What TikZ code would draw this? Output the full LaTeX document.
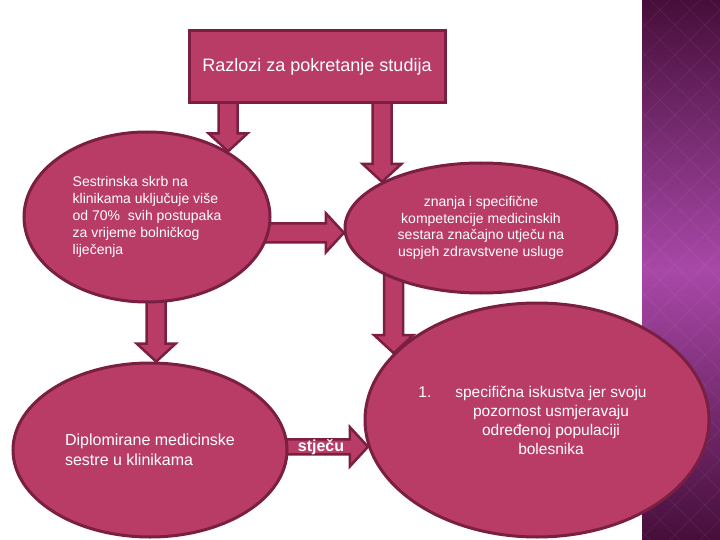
\documentclass[tikz,border=0pt]{standalone}
\usepackage{fontspec}
\setmainfont{Liberation Sans}
\usetikzlibrary{shapes.geometric,calc,backgrounds}

\definecolor{rasp}{RGB}{184,60,102}
\definecolor{raspdark}{RGB}{122,30,66}
\definecolor{stripdark}{RGB}{70,14,58}
\definecolor{stripmid}{RGB}{168,72,168}

\tikzset{
  bubble/.style={ellipse, draw=raspdark, fill=rasp, line width=3pt, text=white, inner sep=0pt},
  titlebox/.style={rectangle, draw=raspdark, fill=rasp, line width=3pt, text=white},
  blockarr/.style={draw=raspdark, fill=rasp, line width=2.5pt, line join=miter},
}

% block arrow: #2 start (hidden under a node), #3 tip
\newcommand{\blockarrow}[3][9.5pt]{%
  \coordinate (hb) at ($(#3)!18pt!(#2)$);
  \draw[blockarr] ($(#2)!#1!90:(#3)$) -- ($(hb)!#1!-90:(#2)$) -- ($(hb)!19.5pt!-90:(#2)$) -- (#3)
    -- ($(hb)!19.5pt!90:(#2)$) -- ($(hb)!#1!90:(#2)$) -- ($(#2)!#1!-90:(#3)$) -- cycle;
}

\begin{document}
\begin{tikzpicture}[x=1pt,y=-1pt]
\useasboundingbox (0,0) rectangle (720,540);

\node[titlebox, minimum width=256pt, minimum height=72pt, font=\fontsize{18}{22}\selectfont] (top) at (317,67) {Razlozi za pokretanje studija};

\node[bubble, minimum width=246pt, minimum height=170pt, align=left, font=\fontsize{14}{17}\selectfont] (e1) at (147,217) {Sestrinska skrb na\\klinikama uključuje više\\od 70\%\ \ svih postupaka\\za vrijeme bolničkog\\liječenja};
\node[bubble, minimum width=272pt, minimum height=130pt, align=center, font=\fontsize{14}{16.7}\selectfont] (e2) at (481,228) {znanja i specifične\\kompetencije medicinskih\\sestara značajno utječu na\\uspjeh zdravstvene usluge};
\node[bubble, minimum width=344pt, minimum height=234pt] (e3) at (537,420) {};
\node[text=white, align=center, font=\fontsize{15.5}{19}\selectfont] (e3txt) at ($(e3.center)+(14pt,0)$) {\llap{1.\hspace{24pt}}specifična iskustva jer svoju\\pozornost usmjeravaju\\određenoj populaciji\\bolesnika};
\node[bubble, minimum width=274pt, minimum height=174pt, align=left, font=\fontsize{16}{20}\selectfont] (e4) at (150,450) {Diplomirane medicinske\\sestre u klinikama};

\node[text=white, font=\bfseries\fontsize{16}{18}\selectfont] (stjecu) at ($(e3.189)+(-47pt,0)$) {stječu};

\begin{scope}[on background layer]
  % purple strip on the right
  \fill[top color=stripdark, bottom color=stripdark, middle color=stripmid] (642,0) rectangle (720,540);
  \begin{scope}
    \clip (642,0) rectangle (720,540);
    \foreach \k in {-240,-210,...,780} {
      \draw[white, opacity=0.05, line width=1pt] (620,\k) -- (820,\k+200);
      \draw[white, opacity=0.05, line width=1pt] (620,\k+200) -- (820,\k);
    }
  \end{scope}

  \coordinate (a1) at (e1.39 |- top.center);
  \coordinate (a2) at (e2.155 |- top.center);
  \coordinate (a3) at (e1.center |- e2.182);
  \coordinate (a4) at (e3.155 |- e2.center);
  \coordinate (a5) at (e4.center |- e3.189);
  \coordinate (a6) at (e4.86 |- e1.center);
  \blockarrow{a1}{e1.39}
  \blockarrow{a2}{e2.155}
  \blockarrow{a3}{e2.182}
  \blockarrow{a4}{e3.155}
  \blockarrow[7.5pt]{a5}{e3.189}
  \blockarrow{a6}{e4.86}
\end{scope}
\end{tikzpicture}
\end{document}
